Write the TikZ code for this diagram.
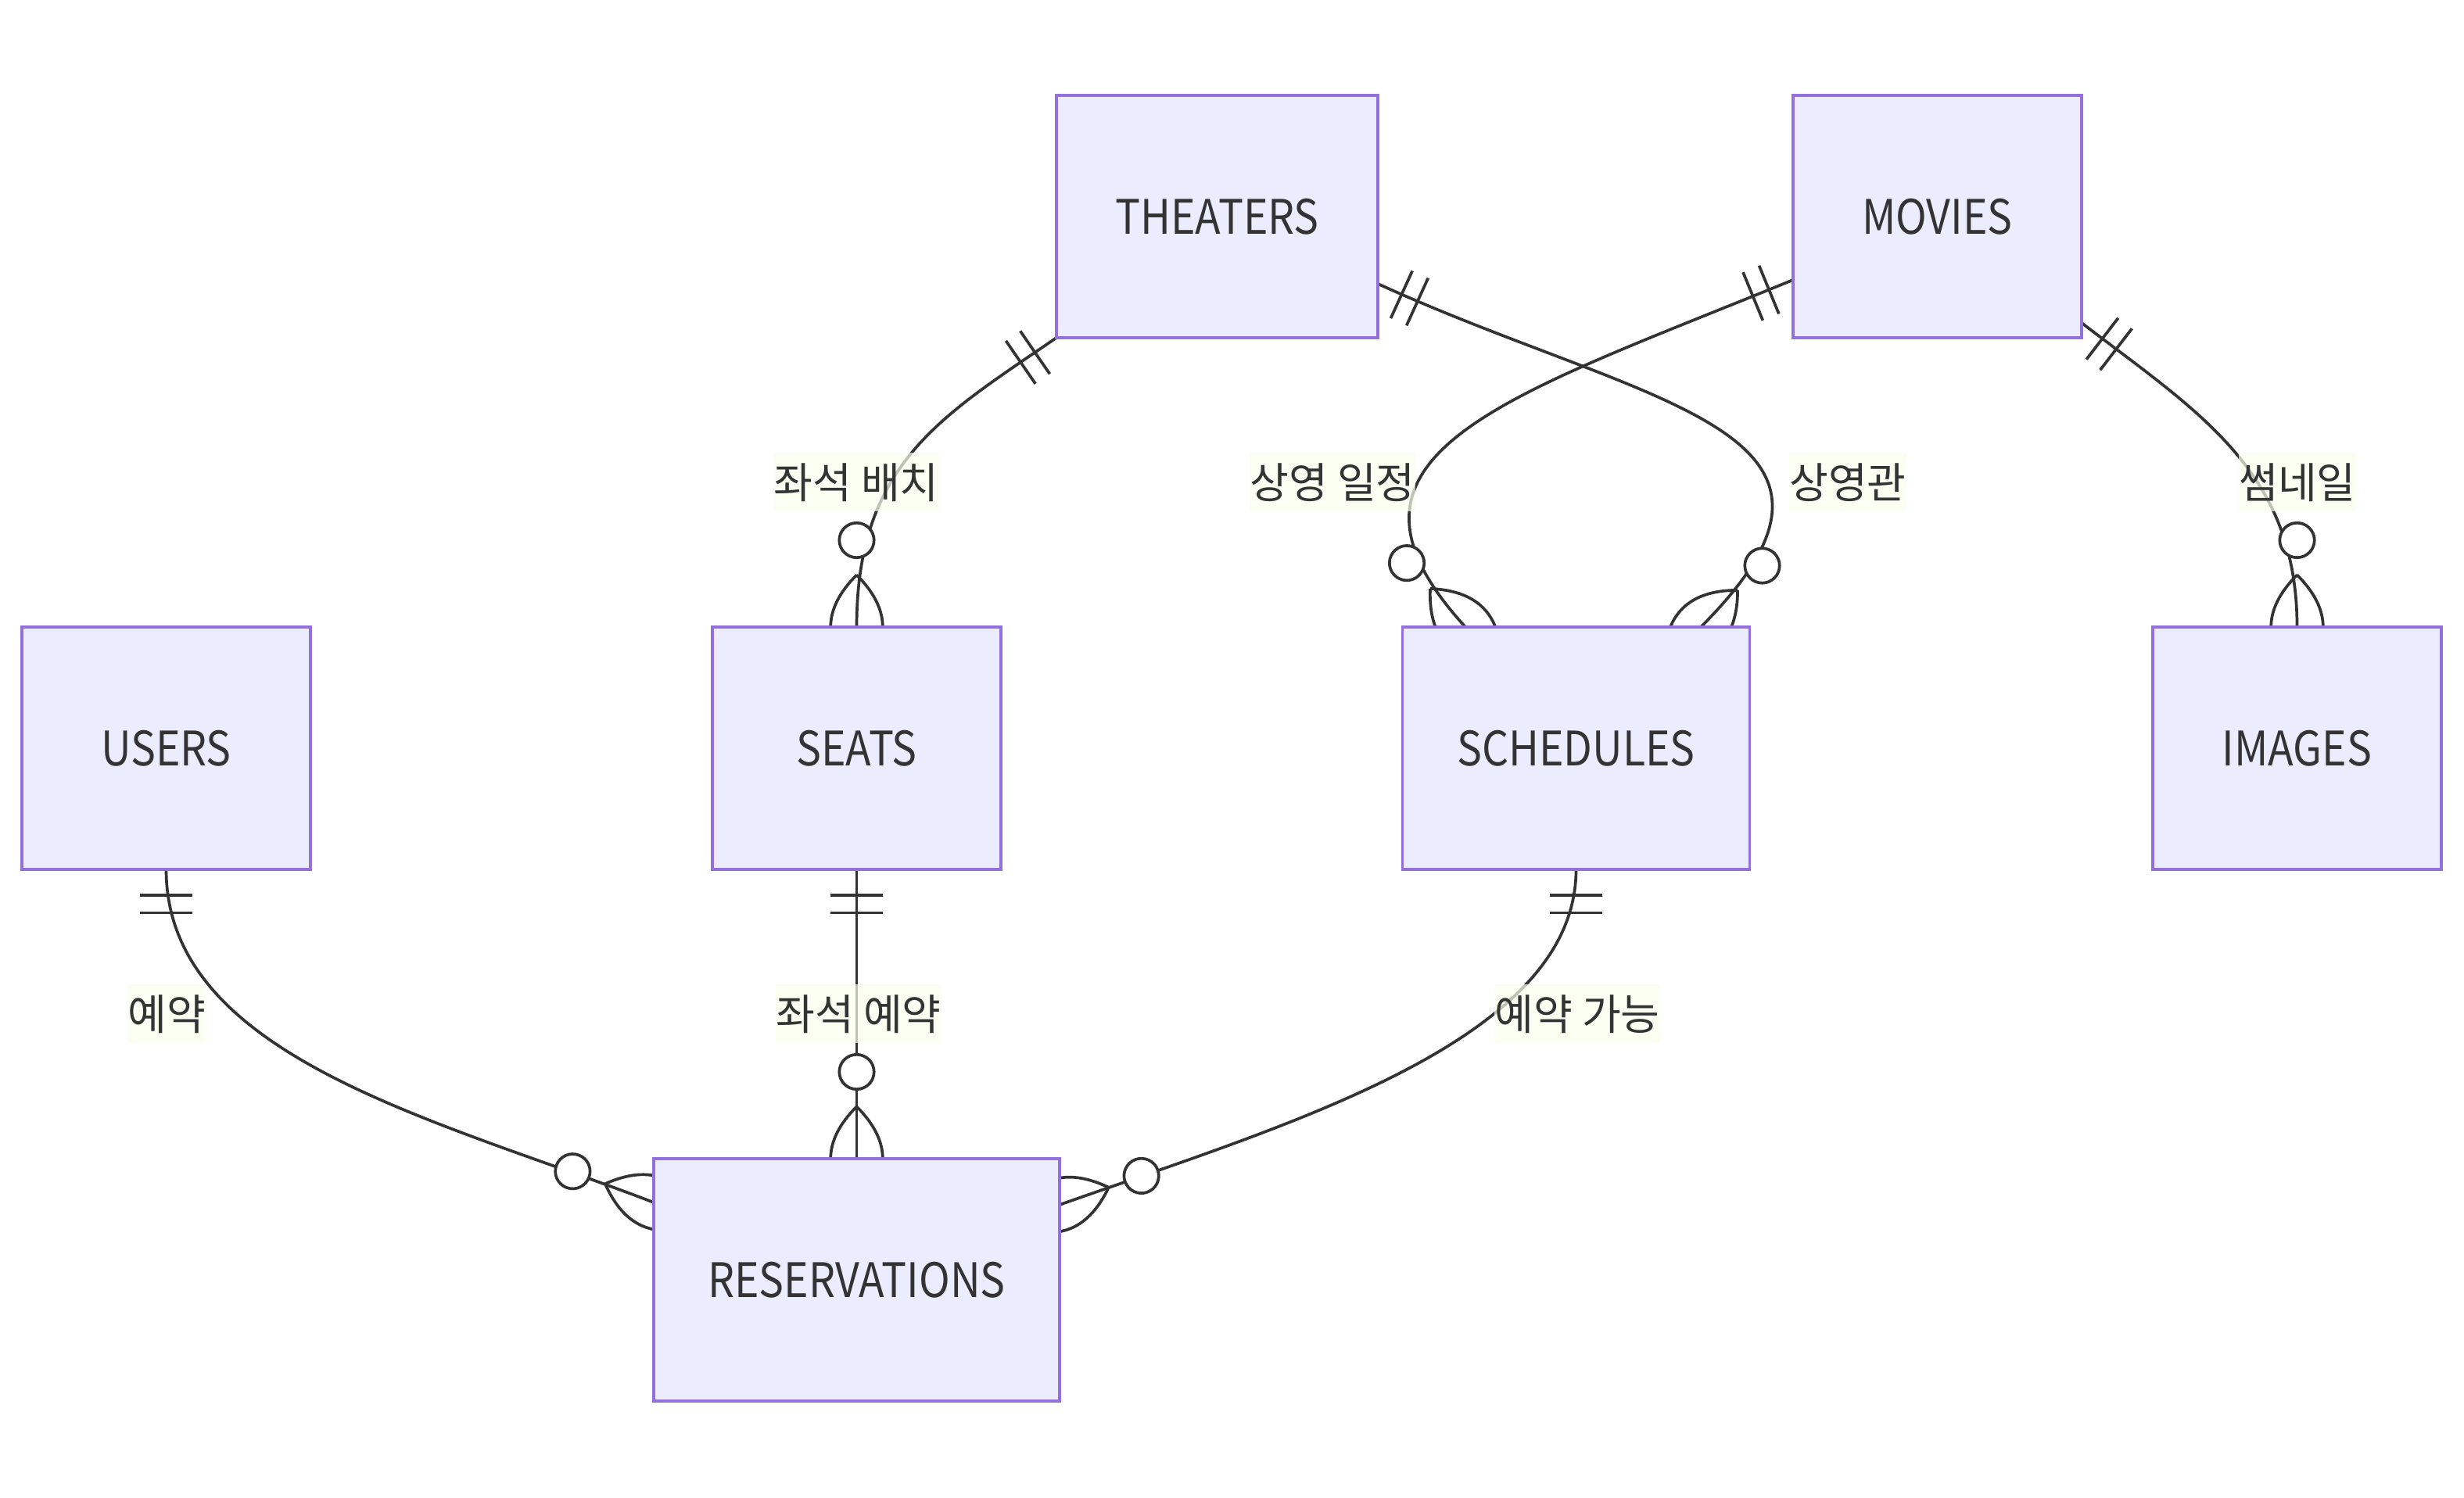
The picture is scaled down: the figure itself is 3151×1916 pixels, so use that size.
\documentclass[tikz,border=0pt]{standalone}
\usepackage{fontspec}
\setmainfont{Noto Sans CJK KR}
\newfontfamily\entfont[FakeStretch=0.88]{Noto Sans CJK KR}
\usetikzlibrary{calc,backgrounds}
\definecolor{lineC}{HTML}{333333}
\definecolor{entfill}{HTML}{ECECFF}
\definecolor{entdraw}{HTML}{9370DB}
\definecolor{lblfill}{HTML}{F9FFEC}
\newcommand\zmany[2]{%
  \begin{scope}[shift={(#1)}, rotate=#2]
    \draw[rel] (-66.6,0) .. controls (-22.2,44.4) and (22.2,44.4) .. (66.6,0)
               .. controls (22.2,-44.4) and (-22.2,-44.4) .. (-66.6,0);
    \draw[rel, fill=white] (-111,0) circle[radius=22.2];
  \end{scope}}
\newcommand\onlyone[2]{%
  \begin{scope}[shift={(#1)}, rotate=#2]
    \draw[rel] (33.3,-33.3) -- (33.3,33.3) (55.5,-33.3) -- (55.5,33.3);
  \end{scope}}
\begin{document}
\begin{tikzpicture}[x=0.24pt, y=0.24pt,
  rel/.style={draw=lineC, line width=0.888pt},
  entity/.style={draw=entdraw, fill=entfill, line width=0.888pt, minimum height=74.4pt,
    inner sep=0pt, outer sep=0pt, text=lineC, font=\entfont\fontsize{14.6}{17}\selectfont},
  lbl/.style={fill=lblfill, fill opacity=0.7, text opacity=1, text=lineC, inner xsep=0pt,
    inner ysep=0pt, minimum height=18pt, font=\fontsize{13}{15}\selectfont}]
\useasboundingbox (0,0) rectangle (3151,1916);
% entities
\node[entity, minimum width=98.64pt] (T) at (1556.5,1639) {THEATERS};
\node[entity, minimum width=88.56pt] (M) at (2477.5,1639) {MOVIES};
\node[entity, minimum width=88.56pt] (U) at (212.5,959) {USERS};
\node[entity, minimum width=88.56pt] (SE) at (1095.5,959) {SEATS};
\node[entity, minimum width=106.56pt] (SC) at (2015.5,959) {SCHEDULES};
\node[entity, minimum width=88.56pt] (IM) at (2937.5,959) {IMAGES};
\node[entity, minimum width=124.56pt] (R) at (1095.5,279) {RESERVATIONS};
% connector end points on the entities
\coordinate (e2s) at ($(T.south east)+(0,69)$);
\coordinate (e2e) at ($(SC.north)+(159.5,0)$);
\coordinate (e3s) at ($(M.south west)+(0,74)$);
\coordinate (e3e) at ($(SC.north)+(-141.5,0)$);
\coordinate (e4s) at ($(M.south east)+(0,19)$);
\coordinate (e5e) at ($(R.west)+(0,99)$);
\coordinate (e7e) at ($(R.east)+(0,96)$);
\begin{pgfonlayer}{background}
\fill[white] (0,0) rectangle (3151,1916);
% THEATERS - SEATS
\draw[rel] (T.south west) .. controls +(214.5:177) and +(90:210) .. (SE.north);
\onlyone{T.south west}{214.5}
\zmany{SE.north}{270}
% THEATERS - SCHEDULES
\draw[rel] (e2s) .. controls +(-24.5:380) and +(45:360) .. (e2e);
\onlyone{e2s}{-24.5}
\zmany{e2e}{225}
% MOVIES - SCHEDULES
\draw[rel] (e3s) .. controls +(202.3:400) and +(132.5:300) .. (e3e);
\onlyone{e3s}{202.3}
\zmany{e3e}{-47.5}
% MOVIES - IMAGES
\draw[rel] (e4s) .. controls +(-37.5:187) and +(90:200) .. (IM.north);
\onlyone{e4s}{-37.5}
\zmany{IM.north}{270}
% USERS - RESERVATIONS
\draw[rel] (U.south) .. controls +(270:240) and +(159:296) .. (e5e);
\onlyone{U.south}{270}
\zmany{e5e}{-21}
% SEATS - RESERVATIONS
\draw[rel] (SE.south) -- (R.north);
\onlyone{SE.south}{270}
\zmany{R.north}{270}
% SCHEDULES - RESERVATIONS
\draw[rel] (SC.south) .. controls +(270:220) and +(19.5:308) .. (e7e);
\onlyone{SC.south}{270}
\zmany{e7e}{199.5}
\end{pgfonlayer}
% labels
\node[lbl] (l1) at (1095,1299) {좌석 배치};
\node[lbl] (l2) at (1704,1299) {상영 일정};
\node[lbl] (l3) at (2363,1299) {상영관};
\node[lbl] (l4) at (2938,1299) {썸네일};
\node[lbl] (l5) at (213,619) {예약};
\node[lbl] (l6) at (1098,619) {좌석 예약};
\node[lbl] (l7) at (2017,619) {예약 가능};
\end{tikzpicture}
\end{document}
